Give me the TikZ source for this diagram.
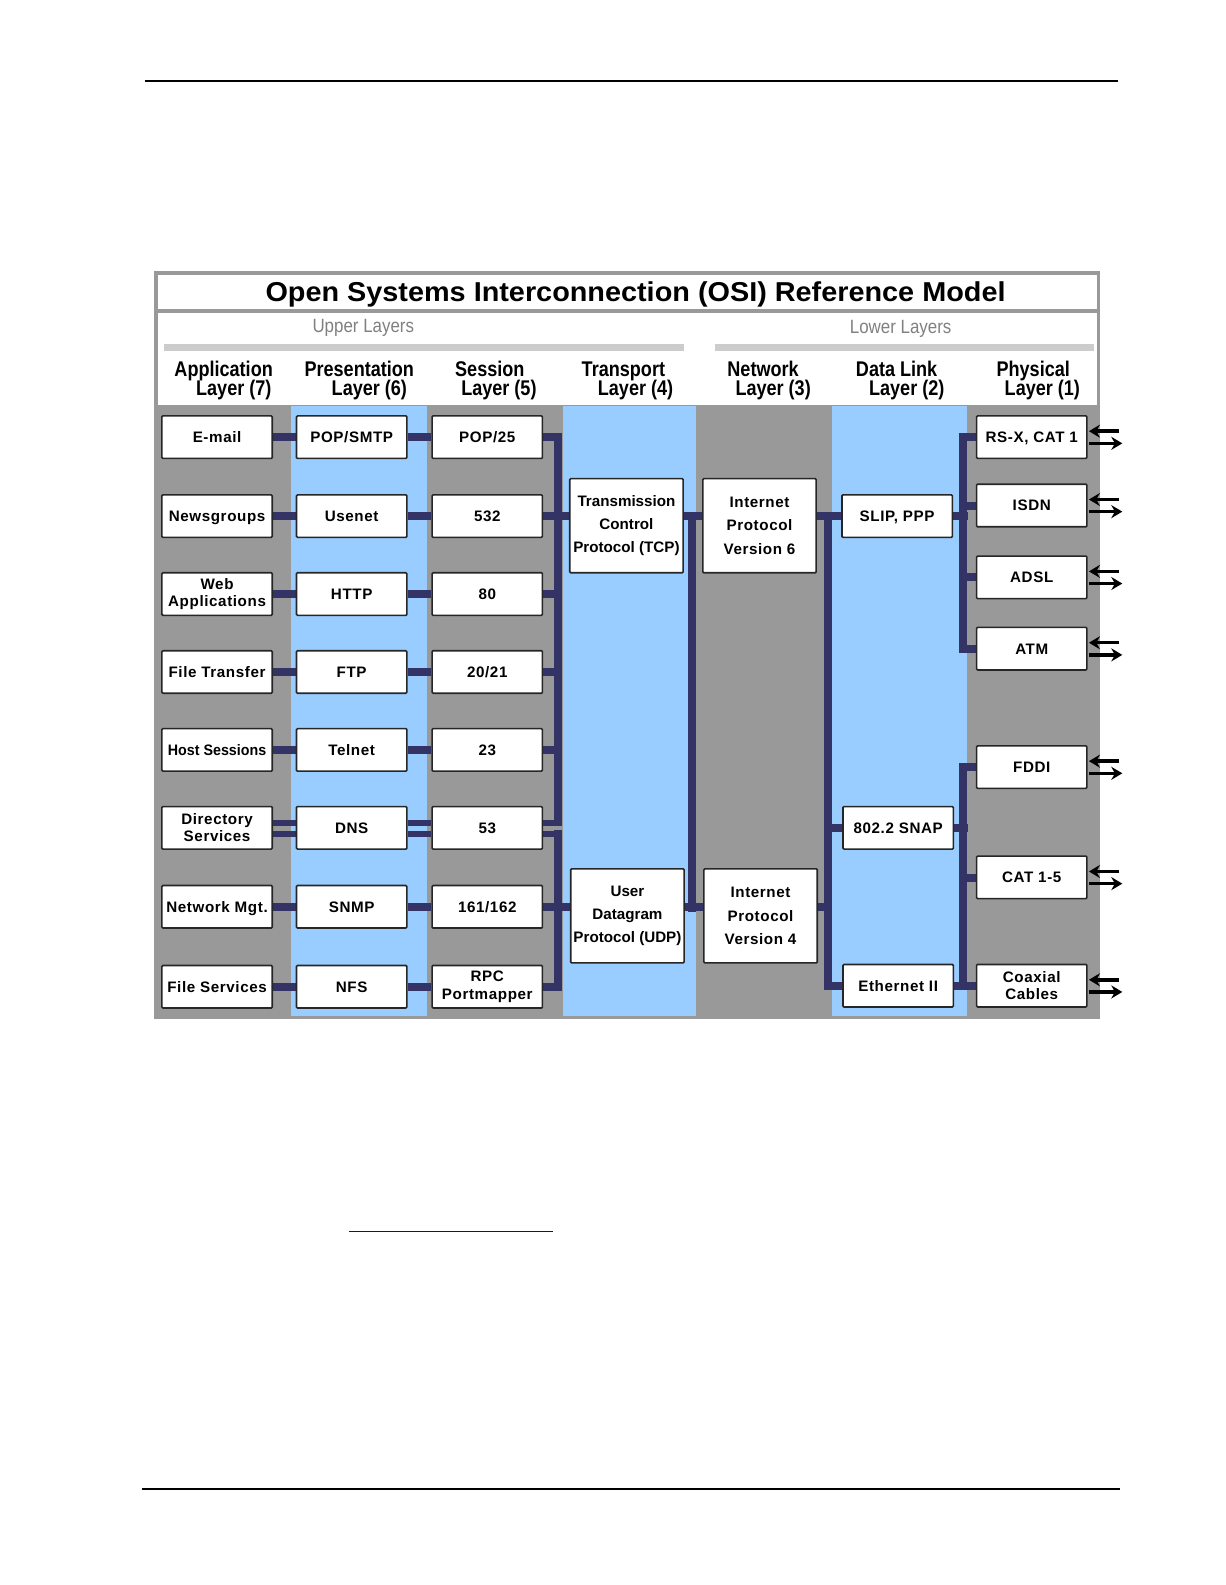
\documentclass[tikz,border=0pt]{standalone}
\usepackage{fontspec}
\usepackage{graphicx}
\setmainfont{Liberation Sans}
\newfontfamily\boxfont{Liberation Sans}[LetterSpace=4]
\newfontfamily\plainfont{Liberation Sans}
\newfontfamily\headfont{Liberation Sans}[FakeStretch=0.85]
\newfontfamily\layfont{Liberation Sans}[FakeStretch=0.88]
\newfontfamily\titlefont{Liberation Sans}[FakeStretch=1.055]
\usetikzlibrary{arrows.meta}
\pgfdeclarelayer{back}
\pgfdeclarelayer{mid}
\pgfsetlayers{back,mid,main}
\definecolor{colgray}{RGB}{153,153,153}
\definecolor{colblue}{RGB}{153,204,255}
\definecolor{navy}{RGB}{51,51,102}
\definecolor{bargray}{RGB}{204,204,204}
\definecolor{laygray}{RGB}{128,128,128}
\definecolor{linkblue}{RGB}{0,0,230}
\begin{document}
\begin{tikzpicture}[x=1pt,y=-1pt,scale=1.012,every node/.append style={transform shape},
  bxbase/.style={draw=black!85, line width=1.6pt, fill=white, rounded corners=1pt,
    minimum width=109pt, minimum height=42pt, inner sep=0pt},
  bx/.style={bxbase, font=\boxfont\bfseries\fontsize{15}{17}\selectfont,
    text height=10.8pt, text depth=0pt},
  bxx/.style={bxbase, align=center, font=\boxfont\bfseries\fontsize{15}{17}\selectfont},
  tb/.style={bxbase, minimum width=112pt, minimum height=93pt, align=center,
    font=\plainfont\bfseries\fontsize{15}{22.5}\selectfont},
  ib/.style={tb, font=\boxfont\bfseries\fontsize{15}{23.5}\selectfont},
  hd/.style={font=\headfont\bfseries\fontsize{21}{21}\selectfont, inner sep=0pt, anchor=base},
  lay/.style={font=\layfont\fontsize{19}{19}\selectfont, text=laygray, inner sep=0pt, anchor=base},
  bar/.style={draw=navy, line width=8pt},
  dbar/.style={draw=navy, line width=6pt},
  arr/.style={draw=black, line width=3.5pt, -{Stealth[length=11pt,width=13pt]}}
]
\path[use as bounding box] (0,0) rectangle (1210.47,1566.2);

% page rules
\draw[line width=2.5pt] (143,80) -- (1105,80);
\draw[line width=2pt] (140,1471) -- (1107,1471);
\draw[linkblue, line width=1.5pt] (345,1217) -- (546,1217);

% ---------- background ----------
\begin{pgfonlayer}{back}
\fill[colgray] (152,268) rectangle (1087,1007);
\fill[white] (156,272) rectangle (1084,305);
\fill[white] (156,309) rectangle (1084,400);
\fill[colblue] (288,401) rectangle (422,1004);
\fill[colblue] (556,401) rectangle (688,1004);
\fill[colblue] (822,401) rectangle (956,1004);
\fill[bargray] (162,340) rectangle (676,347);
\fill[bargray] (707,340) rectangle (1081,347);
\end{pgfonlayer}

% ---------- titles ----------
\node[inner sep=0pt, anchor=base] (title) at (628,298)
  {\titlefont\bfseries\fontsize{27}{30}\selectfont Open Systems Interconnection (OSI) Reference Model};
\node[lay] (upper) at (359,329) {Upper Layers};
\node[lay] (lower) at (890,330) {Lower Layers};

\node[hd] (h7a) at (221,372) {Application};
\node[hd] (h7b) at (231,391) {Layer (7)};
\node[hd] (h6a) at (355,372) {Presentation};
\node[hd] (h6b) at (365,391) {Layer (6)};
\node[hd] (h5a) at (484,372) {Session};
\node[hd] (h5b) at (493,391) {Layer (5)};
\node[hd] (h4a) at (616,372) {Transport};
\node[hd] (h4b) at (628,391) {Layer (4)};
\node[hd] (h3a) at (754,372) {Network};
\node[hd] (h3b) at (764,391) {Layer (3)};
\node[hd] (h2a) at (886,372) {Data Link};
\node[hd] (h2b) at (896,391) {Layer (2)};
\node[hd] (h1a) at (1021,372) {Physical};
\node[hd] (h1b) at (1030,391) {Layer (1)};

% ---------- application layer ----------
\node[bx]  (a1) at (214.5,432) {E-mail};
\node[bx]  (a2) at (214.5,510) {Newsgroups};
\node[bxx] (a3) at (214.5,587) {Web\\Applications};
\node[bx]  (a4) at (214.5,664) {File Transfer};
\node[bx]  (a5) at (214.5,741) {\plainfont\scalebox{0.94}[1]{Host Sessions}};
\node[bxx] (a6) at (214.5,818) {Directory\\Services};
\node[bx]  (a7) at (214.5,896) {Network Mgt.};
\node[bx]  (a8) at (214.5,975) {File Services};

% ---------- presentation layer ----------
\node[bx] (p1) at (347.5,432) {POP/SMTP};
\node[bx] (p2) at (347.5,510) {Usenet};
\node[bx] (p3) at (347.5,587) {HTTP};
\node[bx] (p4) at (347.5,664) {FTP};
\node[bx] (p5) at (347.5,741) {Telnet};
\node[bx] (p6) at (347.5,818) {DNS};
\node[bx] (p7) at (347.5,896) {SNMP};
\node[bx] (p8) at (347.5,975) {NFS};

% ---------- session layer ----------
\node[bx]  (s1) at (481.5,432) {POP/25};
\node[bx]  (s2) at (481.5,510) {532};
\node[bx]  (s3) at (481.5,587) {80};
\node[bx]  (s4) at (481.5,664) {20/21};
\node[bx]  (s5) at (481.5,741) {23};
\node[bx]  (s6) at (481.5,818) {53};
\node[bx]  (s7) at (481.5,896) {161/162};
\node[bxx] (s8) at (481.5,975) {RPC\\Portmapper};

% ---------- transport / network ----------
\node[tb] (tcp) at (619,519.5) {Transmission\\Control\\Protocol (TCP)};
\node[tb] (udp) at (620,905) {User\\Datagram\\Protocol (UDP)};
\node[ib] (ip6) at (750.5,519.5) {Internet\\Protocol\\Version 6};
\node[ib] (ip4) at (751.5,905) {Internet\\Protocol\\Version 4};

% ---------- data link ----------
\node[bx] (slip) at (886.5,510) {SLIP, PPP};
\node[bx] (snap) at (887.5,818) {802.2 SNAP};
\node[bx] (eth)  at (887.5,974) {Ethernet II};

% ---------- physical ----------
\node[bx]  (rs)   at (1019.5,432) {RS-X, CAT 1};
\node[bx]  (isdn) at (1019.5,499.5) {ISDN};
\node[bx]  (adsl) at (1019.5,570.5) {ADSL};
\node[bx]  (atm)  at (1019.5,641) {ATM};
\node[bx]  (fddi) at (1019.5,758) {FDDI};
\node[bx]  (cat)  at (1019.5,867) {CAT 1-5};
\node[bxx] (coax) at (1019.5,974) {Coaxial\\Cables};

% helper coordinates
\coordinate (bS) at (555,0);
\coordinate (bN) at (822,0);
\coordinate (bNl) at (814,0);
\coordinate (bPl) at (948,0);
\coordinate (bPr) at (956,0);
\coordinate (a6u) at ([shift={(0,-5.5)}]a6.east);
\coordinate (a6l) at ([shift={(0,5.5)}]a6.east);
\coordinate (p6u) at ([shift={(0,-5.5)}]p6.east);
\coordinate (p6l) at ([shift={(0,5.5)}]p6.east);
\coordinate (s6u) at ([shift={(0,-5.5)}]s6.east);
\coordinate (s6l) at ([shift={(0,5.5)}]s6.east);

% ---------- connectors ----------
\begin{pgfonlayer}{mid}
\foreach \i in {1,2,3,4,5,7,8} {
  \draw[bar] (a\i.east) -- (p\i.west);
  \draw[bar] (p\i.east) -- (s\i.west);
}
\draw[dbar] (a6u) -- (a6u -| p6.west);
\draw[dbar] (a6l) -- (a6l -| p6.west);
\draw[dbar] (p6u) -- (p6u -| s6.west);
\draw[dbar] (p6l) -- (p6l -| s6.west);
% session buses
\draw[bar] (551,428) -- (551,815.5);
\draw[bar] (551,820.5) -- (551,979);
\foreach \i in {1,3,4,5,8} { \draw[bar] (s\i.east) -- (s\i.east -| bS); }
\draw[bar] (s2.east) -- (s2.east -| tcp.west);
\draw[bar] (s7.east) -- (s7.east -| udp.west);
\draw[dbar] (s6u) -- (s6u -| bS);
\draw[dbar] (s6l) -- (s6l -| bS);
% transport bus
\draw[bar] (684,506) -- (684,901);
\draw[bar] (tcp.east |- s2.east) -- (ip6.west |- s2.east);
\draw[bar] (udp.east |- s7.east) -- (ip4.west |- s7.east);
% network bus
\draw[bar] (818,506) -- (818,978);
\draw[bar] (ip6.east |- slip.west) -- (slip.west);
\draw[bar] (ip4.east |- s7.east) -- (bN |- s7.east);
\draw[bar] (snap.west -| bNl) -- (snap.west);
\draw[bar] (eth.west -| bNl) -- (eth.west);
% physical buses
\draw[bar] (952,428) -- (952,645);
\draw[bar] (952,754) -- (952,978);
\draw[bar] (slip.east) -- (slip.east -| bPr);
\draw[bar] (snap.east) -- (snap.east -| bPr);
\draw[bar] (eth.east) -- (coax.west);
\foreach \n in {rs,isdn,adsl,atm,fddi,cat} { \draw[bar] (\n.west -| bPl) -- (\n.west); }
\end{pgfonlayer}

% ---------- in/out arrows ----------
\foreach \n in {rs,isdn,adsl,atm,fddi,cat,coax} {
  \draw[arr] ([shift={(31,-6)}]\n.east) -- ([shift={(1,-6)}]\n.east);
  \draw[arr] ([shift={(1,6)}]\n.east) -- ([shift={(34,6)}]\n.east);
}
\end{tikzpicture}
\end{document}
